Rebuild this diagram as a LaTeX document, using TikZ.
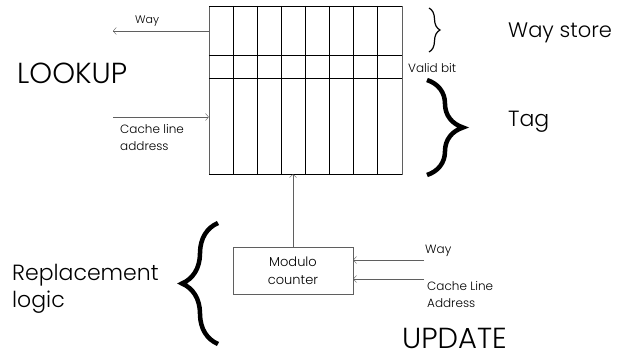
\documentclass[tikz,border=0pt]{standalone}
\usepackage{fontspec}
\setmainfont{Poppins}[UprightFont=* Light]
\usetikzlibrary{arrows.meta,decorations.pathreplacing}
\definecolor{linegray}{RGB}{95,95,95}

\begin{document}
\begin{tikzpicture}[x=1pt,y=-1pt,>={Straight Barb[length=3pt,width=7pt]},
  small/.style={inner sep=0pt,anchor=west,align=left,font=\fontsize{12}{17}\selectfont},
  mid/.style={inner sep=0pt,anchor=west,align=left,font=\fontsize{22}{27}\selectfont},
  large/.style={inner sep=0pt,anchor=west,font=\fontsize{29}{30}\selectfont},
  curly/.style={decorate,decoration={brace,amplitude=#1}}]
  \useasboundingbox (0,0) rectangle (619,358);
  % tag store
  \node[draw=linegray,minimum width=193pt,minimum height=168pt,inner sep=0pt] (store) at (305.5,90) {};
  \foreach \k in {1,...,7}
    \draw[line width=1.1pt] (209+\k*24.125,6) -- (209+\k*24.125,174);
  \foreach \y in {6,55,78,174}
    \draw (209,\y) -- (402,\y);
  % lookup side
  \coordinate (wayend) at (113,31);
  \coordinate (cachestart) at (113,117);
  \draw[->,linegray] (wayend -| store.west) -- (wayend);
  \draw[->,linegray] (cachestart) -- (cachestart -| store.west);
  \node[small,font=\fontsize{11}{14}\selectfont] (wayout) at (135,21) {Way};
  \node[large] (lookup) at (17,73) {LOOKUP};
  \node[small] (cacheaddr) at (120,138) {Cache line\\address};
  % fields
  \draw[curly=11,line width=1.2pt] (429,8) -- (429,52);
  \draw[curly=36,line width=4.5pt] (427,80) -- (427,175);
  \node[mid,font=\fontsize{21}{26}\selectfont] (waystore) at (508,33) {Way store};
  \node[small] (valid) at (408,68) {Valid bit};
  \node[mid] (tag) at (508,122) {Tag};
  % replacement logic
  \node[draw=linegray,minimum width=120pt,minimum height=47pt,align=center,
    font=\fontsize{13}{18}\selectfont] (counter) at (293,270.5) {Modulo\\counter};
  \draw[->,linegray] (counter.north) -- (counter.north |- store.south);
  \coordinate (wayin) at (424,260);
  \coordinate (linein) at (424,279);
  \draw[->,linegray] (wayin) -- (wayin -| counter.east);
  \draw[->,linegray] (linein) -- (linein -| counter.east);
  \node[small] (wayupd) at (425,251) {Way};
  \node[small] (lineupd) at (427,295) {Cache Line\\Address};
  \node[large] (update) at (402,338) {UPDATE};
  \draw[curly=36,line width=4.5pt] (218,344) -- (218,223);
  \node[mid] (repl) at (12,289) {Replacement\\logic};
\end{tikzpicture}
\end{document}
